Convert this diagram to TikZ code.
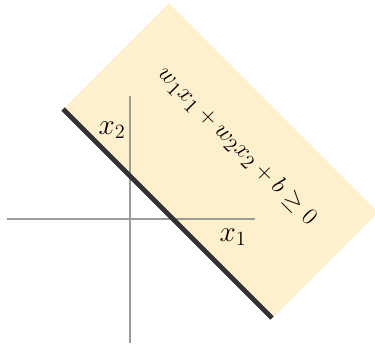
\documentclass[tikz,border=0pt]{standalone}
\definecolor{halfyellow}{RGB}{255, 240, 205}
\definecolor{axisgray}{RGB}{155, 155, 155}
\definecolor{linedark}{RGB}{50, 50, 50}
\usepackage{tikz}
\usepackage{amsmath}
\usetikzlibrary{calc}

\begin{document}
\begin{tikzpicture}[x=0.025cm, y=-0.025cm,
                    axis/.style={axisgray, line width=1.5pt},
                    boundary/.style={linedark, line width=3.4pt},
                    lbl/.style={font=\fontsize{21}{25}\selectfont, inner sep=1pt}]
                    \useasboundingbox (0, 0) rectangle (375, 343);
                    \coordinate (lft) at (63, 109);
                    \coordinate (rgt) at (272, 318);
                    \fill[halfyellow] (lft) -- ($(lft)+(106,-106)$) -- ($(rgt)+(106,-106)$) -- (rgt) -- cycle;
                    \coordinate (xw) at (7, 219);
                    \coordinate (xe) at (255, 219);
                    \coordinate (yn) at (130, 96);
                    \coordinate (ys) at (130, 343);
                    \draw[axis] (xw) -- (xe);
                    \draw[axis] (yn) -- (ys);
                    \draw[boundary] (lft) -- (rgt);
                    \node[lbl] (xone) at (233, 237) {$x_1$};
                    \node[lbl] (xtwo) at (112, 130) {$x_2$};
                    \node[lbl, font=\fontsize{19}{23}\selectfont, rotate=-45] (ineq) at (237, 146) {$w_1x_1+w_2x_2+b\geq 0$};
                \end{tikzpicture}
\end{document}
